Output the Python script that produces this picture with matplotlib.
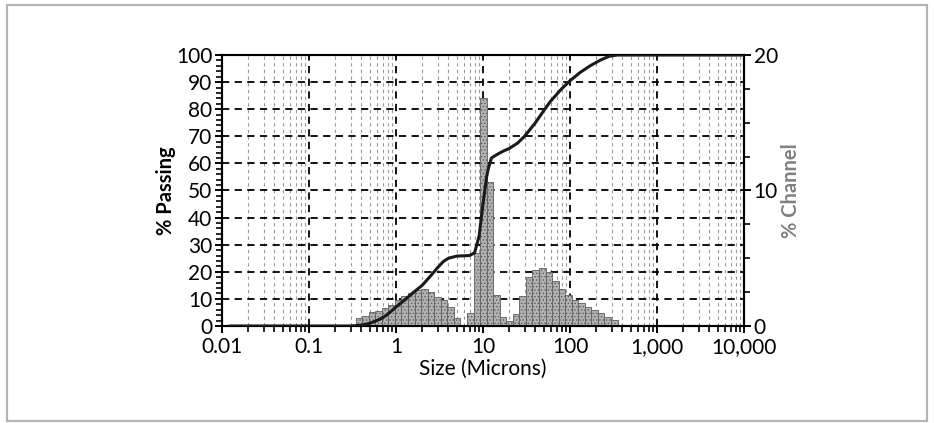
import numpy as np
import matplotlib
matplotlib.use("Agg")
import matplotlib.pyplot as plt
from matplotlib.ticker import MultipleLocator, NullFormatter
from matplotlib.patches import Rectangle

plt.rcParams['font.family'] = ['Lato', 'DejaVu Sans']
plt.rcParams['hatch.linewidth'] = 0.6

# channel edges (microns) and % in each channel
edges = [0.344, 0.409, 0.486, 0.578, 0.688, 0.818, 0.972, 1.156, 1.375, 1.635,
         1.945, 2.312, 2.75, 3.27, 3.89, 4.62, 5.5, 6.54, 7.78, 9.25, 11.0,
         13.08, 15.56, 18.5, 22.0, 26.16, 31.11, 37.0, 44.0, 52.33, 62.23,
         74.0, 88.0, 104.7, 124.5, 148.0, 176.0, 209.3, 248.9, 296.0, 352.0, 418.6]
channel = [0.57, 0.74, 1.0, 1.13, 1.3, 1.55, 1.92, 2.2, 2.46, 2.66, 2.7, 2.53,
           2.16, 1.92, 1.42, 0.57, 0, 0.94, 5.4, 16.8, 10.65, 2.3, 0.65, 0.35,
           0.9, 2.2, 3.6, 4.15, 4.26, 4.0, 3.35, 2.75, 2.3, 1.92, 1.67, 1.42,
           1.18, 0.95, 0.65, 0.42, 0.1]

# cumulative curve
size = [0.0125, 0.3, 0.4, 0.5, 0.6, 0.7, 0.8, 1.0, 1.3, 1.6, 2.0, 2.5, 3.0,
        3.5, 4.0, 5.0, 7.0, 8.0, 9.0, 10.0, 11.0, 11.5, 12.5, 14.0, 17.0, 20.0,
        25.0, 30.0, 40.0, 50.0, 60.0, 80.0, 100.0, 130.0, 170.0, 220.0, 280.0,
        350.0, 10000]
passing = [0, 0, 0.3, 1, 2, 3, 4.3, 7, 10, 12.5, 15, 18.5, 21.5, 23.8, 25,
           25.8, 26, 27, 33, 45, 55, 58, 62, 63, 64.5, 65.5, 67.5, 70, 75, 79.5,
           83, 87.5, 90.5, 93.5, 96, 98, 99.5, 100, 100]

xticks = [0.01, 0.1, 1, 10, 100, 1000, 10000]
xlabels = ['0.01', '0.1', '1', '10', '100', '1,000', '10,000']

fig = plt.figure(figsize=(9.34, 4.23), dpi=100)
ax = fig.add_axes([222/934, 1 - 326/423, (744 - 222)/934, (326 - 55)/423])

# outer grey frame
fig.patches.append(Rectangle((7/934, 2/423), 920/934, 416/423, transform=fig.transFigure,
                             fill=False, edgecolor='#b4b4b4', linewidth=1.6))

ax.set_xscale('log')
ax.set_xlim(0.01, 10000)
ax.set_ylim(0, 100)
ax.set_xticks(xticks)
ax.set_xticklabels(xlabels)
ax.xaxis.set_minor_formatter(NullFormatter())
ax.set_yticks(range(0, 101, 10))
ax.yaxis.set_minor_locator(MultipleLocator(2))

ax.grid(True, which='major', color='black', linestyle=(0, (4, 3)), linewidth=1.3)
ax.grid(True, which='minor', axis='x', color='#9a9a9a', linestyle=(0, (3, 3)), linewidth=0.8)
ax.set_axisbelow(True)

ax2 = ax.twinx()
ax2.set_ylim(0, 20)
ax2.set_yticks([0, 10, 20])
ax2.yaxis.set_minor_locator(MultipleLocator(2.5))

lefts = edges[:-1]
widths = np.diff(edges)
ax2.bar(lefts, channel, width=widths, align='edge', facecolor='#b2b2b2',
        edgecolor='#5e5e5e', hatch='.....', linewidth=0.6, zorder=2)

ax2.plot(size, passing, color='#1a1a1a', linewidth=2.2, transform=ax.transData, zorder=3)

for a in (ax, ax2):
    for s in a.spines.values():
        s.set_linewidth(1.5)
        s.set_color('black')
ax.tick_params(which='major', length=5, width=1.4, labelsize=15, pad=2, colors='black')
ax.tick_params(which='minor', length=4, width=1.2)
ax.tick_params(axis='x', which='major', pad=3)
ax2.tick_params(which='major', length=5, width=1.4, labelsize=15, pad=2)
ax2.tick_params(which='minor', length=4, width=1.2)

ax.set_xlabel('Size (Microns)', fontsize=15, labelpad=1)
ax.set_ylabel('% Passing', fontsize=14.5, fontweight='bold', labelpad=0)
ax2.set_ylabel('% Channel', fontsize=14.5, fontweight='bold', color='#808080', labelpad=2)

fig.savefig('out.png', dpi=100)
